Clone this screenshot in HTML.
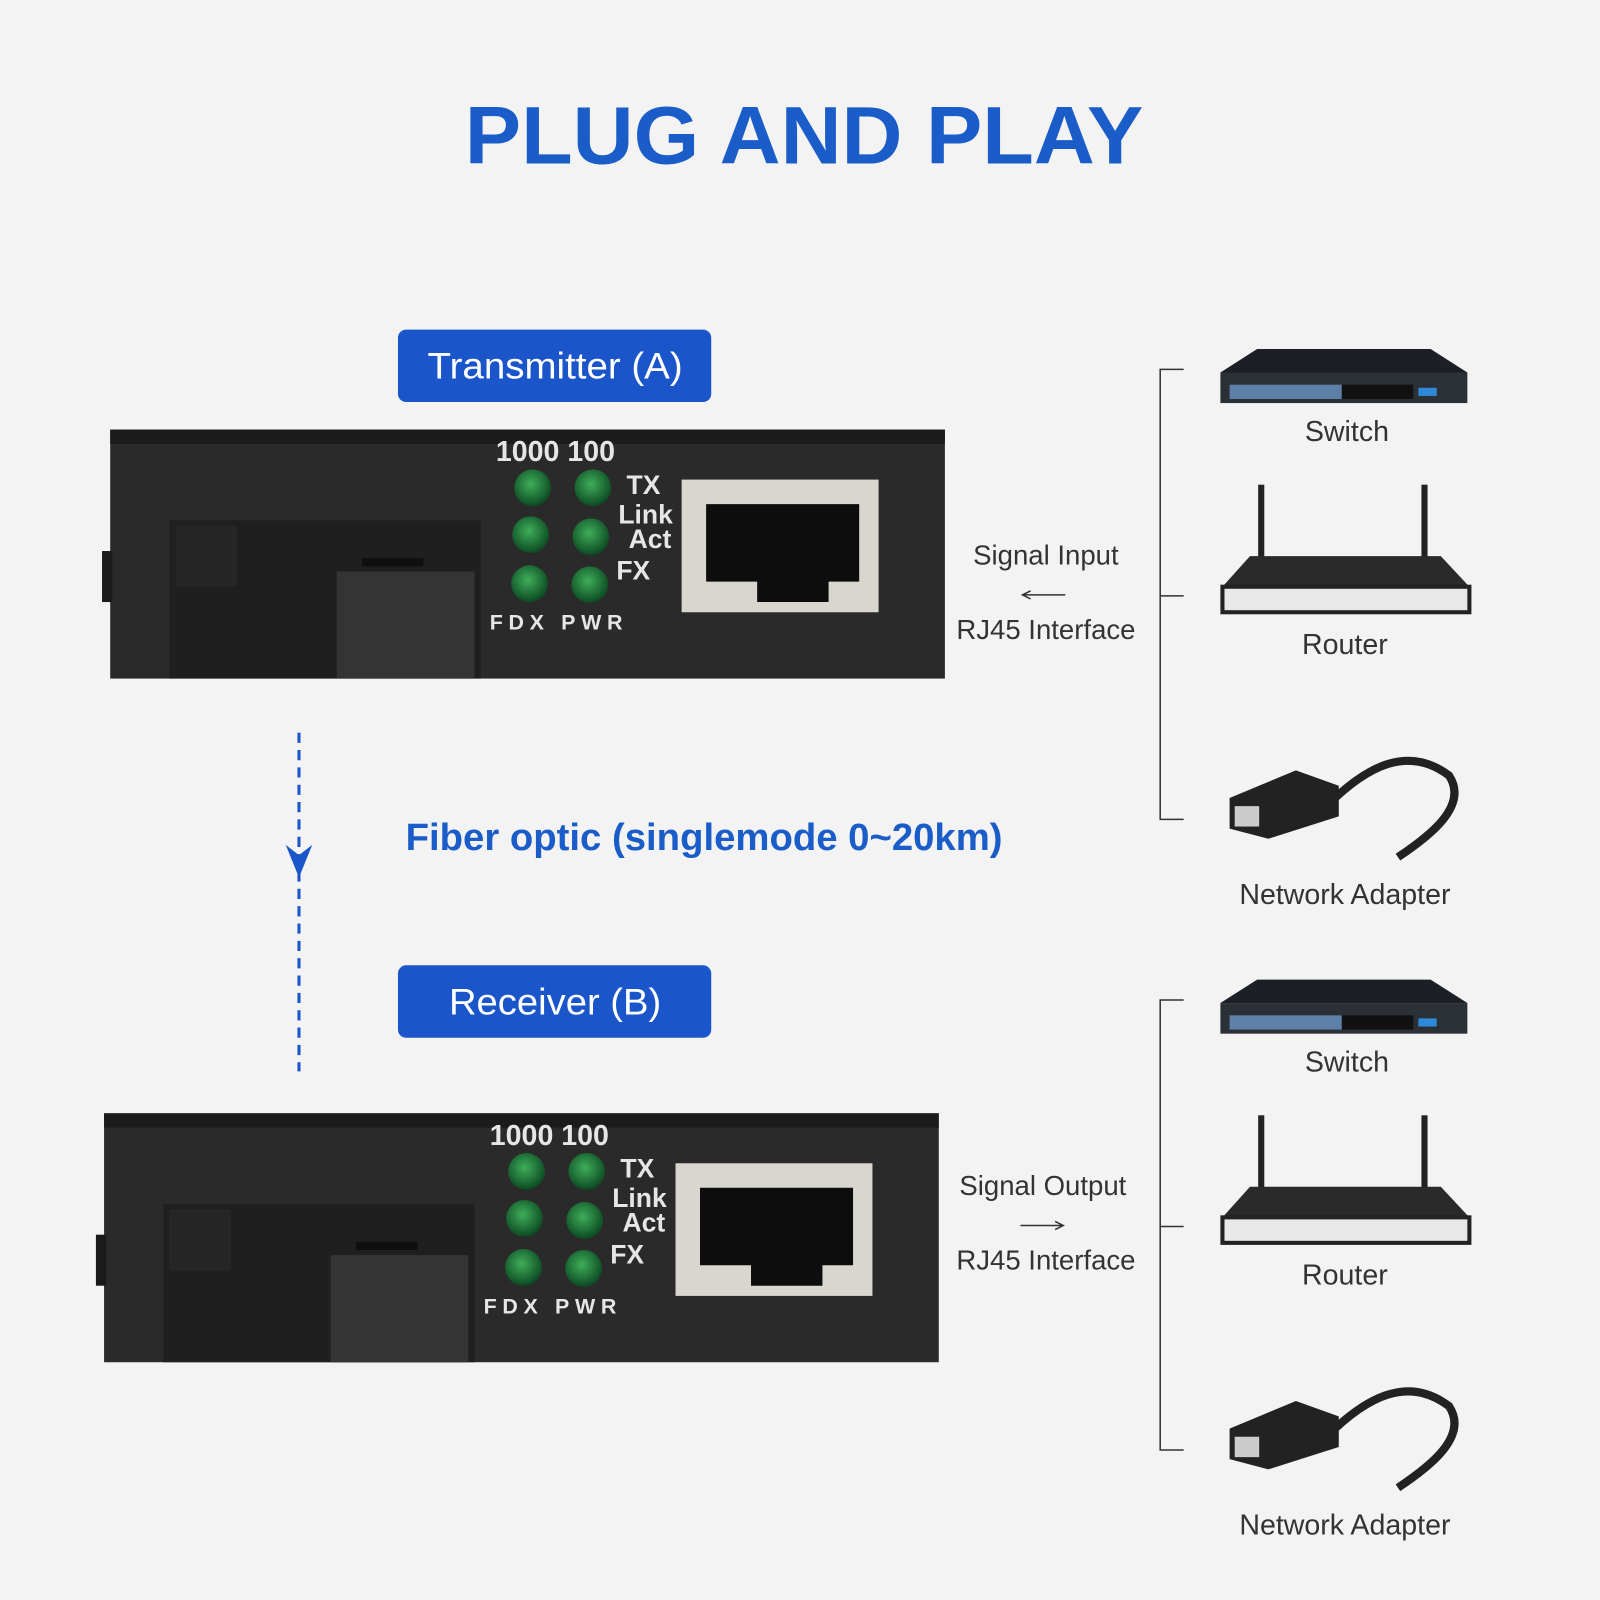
<!DOCTYPE html>
<html><head><meta charset="utf-8"><style>
html,body{margin:0;padding:0;background:#f3f3f3;}
svg{display:block;font-family:"Liberation Sans",sans-serif;}
</style></head><body>
<svg width="1600" height="1600" viewBox="0 0 1568 1568" xmlns="http://www.w3.org/2000/svg">
<defs>
<radialGradient id="led" cx="0.45" cy="0.4" r="0.6"><stop offset="0" stop-color="#3fae5a"/><stop offset="1" stop-color="#0c4a22"/></radialGradient>
<g id="dev">
 <rect x="108" y="421" width="818" height="244" fill="#2a2a2b"/>
 <rect x="108" y="421" width="818" height="14" fill="#1b1b1c"/>
 <rect x="100" y="540" width="10" height="50" fill="#1a1a1a"/>
 <rect x="166" y="510" width="305" height="155" fill="#1f1f20"/>
 <rect x="172" y="515" width="60" height="60" fill="#262627"/>
 <rect x="330" y="560" width="135" height="105" fill="#343435"/>
 <rect x="355" y="547" width="60" height="8" fill="#0f0f0f"/>
 <g fill="url(#led)">
  <circle cx="522" cy="478" r="18"/><circle cx="581" cy="478" r="18"/>
  <circle cx="520" cy="524" r="18"/><circle cx="579" cy="526" r="18"/>
  <circle cx="519" cy="572" r="18"/><circle cx="578" cy="573" r="18"/>
 </g>
 <g fill="#e6e6e6" font-weight="bold">
  <text x="486" y="452" font-size="28">1000 100</text>
  <text x="614" y="484" font-size="26">TX</text>
  <text x="606" y="513" font-size="26">Link</text>
  <text x="616" y="537" font-size="26">Act</text>
  <text x="604" y="568" font-size="26">FX</text>
  <text x="480" y="617" font-size="21" textLength="130">FDX PWR</text>
 </g>
 <rect x="668" y="470" width="193" height="130" fill="#d9d6d0"/>
 <path d="M692 494 H842 V570 H812 V590 H742 V570 H692 Z" fill="#0d0d0d"/>
</g>
<g id="side">
 <path d="M1160 362 H1137 V803 H1160 M1137 584 H1160" fill="none" stroke="#333" stroke-width="1.5"/>
 <rect x="1196" y="365" width="242" height="30" fill="#2b2f36"/>
 <path d="M1196 365 L1232 342 H1402 L1438 365 Z" fill="#1c1f25"/>
 <rect x="1205" y="377" width="110" height="14" fill="#5d7fa8"/>
 <rect x="1315" y="377" width="70" height="14" fill="#111"/>
 <rect x="1390" y="380" width="18" height="8" fill="#2e8ad8"/>
 <text x="1320" y="432" font-size="28" text-anchor="middle" fill="#333">Switch</text>
 <rect x="1233" y="475" width="6" height="75" fill="#222"/><rect x="1393" y="475" width="6" height="75" fill="#222"/>
 <path d="M1198 575 L1225 545 H1412 L1440 575 Z" fill="#2a2a2a"/>
 <rect x="1198" y="575" width="242" height="25" fill="#e8e8e8" stroke="#222" stroke-width="4"/>
 <text x="1318" y="641" font-size="28" text-anchor="middle" fill="#333">Router</text>
 <path d="M1300 790 C1340 750 1380 730 1420 760 C1440 790 1400 820 1370 840" fill="none" stroke="#222" stroke-width="8"/>
 <path d="M1205 782 L1270 755 L1312 770 L1312 800 L1243 822 L1205 812 Z" fill="#222"/>
 <rect x="1210" y="790" width="24" height="20" fill="#ccc"/>
 <text x="1318" y="886" font-size="28" text-anchor="middle" fill="#333">Network Adapter</text>
</g>
</defs>
<text x="788" y="160" font-size="80" font-weight="bold" fill="#1a5cc8" text-anchor="middle" textLength="665" lengthAdjust="spacingAndGlyphs">PLUG AND PLAY</text>
<rect x="390" y="323" width="307" height="71" rx="8" fill="#1a56c9"/>
<text x="544" y="371" font-size="36" fill="#fff" text-anchor="middle" textLength="250" lengthAdjust="spacingAndGlyphs">Transmitter (A)</text>
<use href="#dev"/>
<text x="1025" y="553" font-size="27" text-anchor="middle" fill="#333">Signal Input</text>
<path d="M1044 583 H1002 M1010 579 L1002 583 L1010 587" fill="none" stroke="#333" stroke-width="1.5"/>
<text x="1025" y="626" font-size="27" text-anchor="middle" fill="#333">RJ45 Interface</text>
<use href="#side"/>
<line x1="293" y1="718" x2="293" y2="1050" stroke="#1a56c9" stroke-width="3" stroke-dasharray="10,7"/>
<path d="M280 828 L293 860 L306 828 L293 838 Z" fill="#1a56c9"/>
<text x="690" y="833" font-size="37" font-weight="bold" fill="#1a5cc8" text-anchor="middle" textLength="585" lengthAdjust="spacingAndGlyphs">Fiber optic (singlemode 0~20km)</text>
<rect x="390" y="946" width="307" height="71" rx="8" fill="#1a56c9"/>
<text x="544" y="994" font-size="36" fill="#fff" text-anchor="middle" textLength="208" lengthAdjust="spacingAndGlyphs">Receiver (B)</text>
<use href="#dev" transform="translate(-6,670)"/>
<text x="1022" y="1171" font-size="27" text-anchor="middle" fill="#333">Signal Output</text>
<path d="M1000 1201 H1042 M1034 1197 L1042 1201 L1034 1205" fill="none" stroke="#333" stroke-width="1.5"/>
<text x="1025" y="1244" font-size="27" text-anchor="middle" fill="#333">RJ45 Interface</text>
<use href="#side" transform="translate(0,618)"/>
</svg>
</body></html>
